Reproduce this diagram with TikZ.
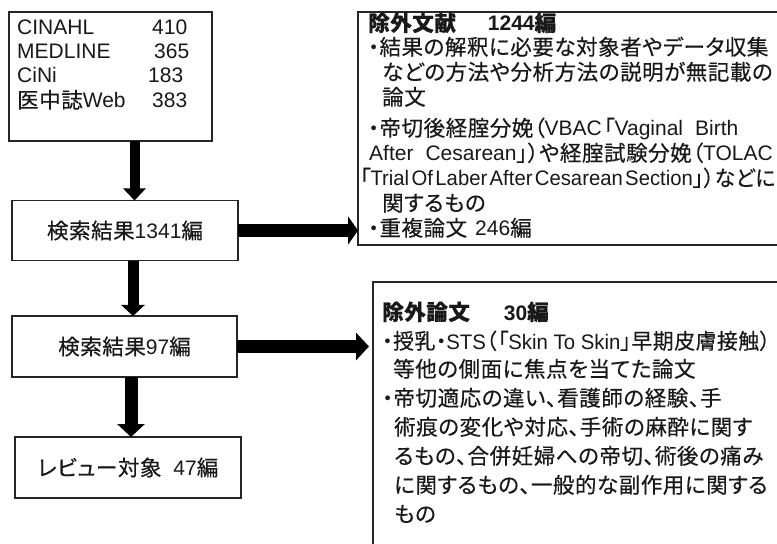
\documentclass[tikz,border=0pt]{standalone}
\usepackage{fontspec}
\usepackage{graphicx}
\setmainfont{Liberation Sans}
\newfontfamily\jpfont{Noto Sans CJK JP}[RawFeature=+palt, FakeBold=0.4, Scale=1.025, LetterSpace=2.5]
\usetikzlibrary{arrows.meta}
\XeTeXinterchartokenstate=1
\newXeTeXintercharclass\JPclass
\makeatletter
\def\setjprange#1#2{\count@=#1\relax
  \loop\XeTeXcharclass\count@=\JPclass
  \ifnum\count@<#2\relax\advance\count@ by 1\relax\repeat}
\setjprange{"3000}{"30FF}
\setjprange{"4E00}{"9FFF}
\setjprange{"FF00}{"FFEF}
\makeatother
\XeTeXinterchartoks 0 \JPclass = {\jpfont}
\XeTeXinterchartoks 4095 \JPclass = {\jpfont}
\XeTeXinterchartoks \JPclass 0 = {\rmfamily}
\XeTeXinterchartoks \JPclass 4095 = {\rmfamily}
\begin{document}
\begin{tikzpicture}[x=1bp,y=-1bp,
  box/.style={draw=black!85, line width=1.6bp, fill=white, inner sep=0pt, outer sep=0pt},
  lbl/.style={anchor=base west, inner sep=0pt, text=black!90, font=\fontsize{21bp}{25bp}\selectfont},
  ctr/.style={box, text=black!90, font=\fontsize{21bp}{25bp}\selectfont},
  arrA/.style={draw=black, line width=10bp, -{Triangle[length=12bp,width=22bp]}},
  arrB/.style={draw=black, line width=11bp, -{Triangle[length=11bp,width=23bp]}},
  arrC/.style={draw=black, line width=13bp, -{Triangle[length=13bp,width=27bp]}},
  arrH/.style={draw=black, line width=13.5bp, -{Triangle[length=10bp,width=28bp]}},
  arrI/.style={draw=black, line width=13bp, -{Triangle[length=13bp,width=27bp]}}]
\useasboundingbox[fill=white] (0,0) rectangle (777,544);

% left column boxes
\node[box, anchor=north west, minimum width=203bp, minimum height=129bp] (b1) at (9,12) {};
\node[ctr, minimum width=226bp, minimum height=60bp] (b2) at (125,230.5) {検索結果1341編};
\node[ctr, minimum width=225bp, minimum height=61bp] (b3) at (124.5,346.5) {検索結果97編};
\node[ctr, minimum width=226bp, minimum height=61bp] (b4) at (128,467.5) {レビュー対象\hspace{12bp}47編};

% database list
\node[lbl] (d1) at (17,35) {CINAHL};
\node[lbl] (n1) at (152,35) {410};
\node[lbl] (d2) at (17,58.5) {MEDLINE};
\node[lbl] (n2) at (154,58.5) {365};
\node[lbl] (d3) at (17,83) {CiNi};
\node[lbl] (n3) at (148,83) {183};
\node[lbl] (d4) at (17,108) {医中誌Web};
\node[lbl] (n4) at (152,108) {383};

% right boxes
\node[box, anchor=north west, minimum width=422bp, minimum height=233bp] (b5) at (358,12) {};
\node[box, anchor=north west, minimum width=407bp, minimum height=280bp] (b6) at (373,282) {};

% right box 1 text
\node[lbl] (r1) at (368,31) {\bfseries 除外文献\hspace{32bp}1244編};
\node[lbl] (r2) at (368,55) {・結果の解釈に必要な対象者やデータ収集};
\node[lbl] (r3) at (382,80) {などの方法や分析方法の説明が無記載の};
\node[lbl] (r4) at (382,105) {論文};
\node[lbl] (r5) at (368,136) {・帝切後経腟分娩（VBAC\kern2bp「Vaginal\hspace{12bp}Birth};
\node[lbl] (r6) at (369,161) {After\hspace{12bp}Cesarean」）や経腟試験分娩（TOLAC};
\node[lbl] (r7) at (360,186) {\scalebox{0.965}[1]{\spaceskip=0.12em「Trial Of Laber After Cesarean Section」）などに}};
\node[lbl] (r8) at (382,211) {関するもの};
\node[lbl] (r9) at (368,236) {・重複論文\hspace{8bp}246編};

% right box 2 text
\node[lbl] (s1) at (382,320) {\bfseries 除外論文\hspace{34bp}30編};
\node[lbl] (s2) at (382,349) {\scalebox{0.97}[1]{・授乳・STS（\kern1.5bp「Skin To Skin」早期皮膚接触）}};
\node[lbl] (s3) at (393,377) {等他の側面に焦点を当てた論文};
\node[lbl] (s4) at (382,406) {・帝切適応の違い、看護師の経験、手};
\node[lbl] (s5) at (394,435) {術痕の変化や対応、手術の麻酔に関す};
\node[lbl] (s6) at (394,464) {るもの、合併妊婦への帝切、術後の痛み};
\node[lbl] (s7) at (394,493) {に関するもの、一般的な副作用に関する};
\node[lbl] (s8) at (394,522) {もの};

% arrows
\coordinate (ax1) at (134.5,0);
\coordinate (ax2) at (133,0);
\coordinate (ax3) at (131,0);
\draw[arrA] (b1.south -| ax1) -- (b2.north -| ax1);
\draw[arrB] (b2.south -| ax2) -- (b3.north -| ax2);
\draw[arrC] (b3.south -| ax3) -- (b4.north -| ax3);
\draw[arrH] (b2.east) -- (b2.east -| b5.west);
\draw[arrI] (b3.east) -- ([xshift=-4bp]b3.east -| b6.west);
\end{tikzpicture}
\end{document}
